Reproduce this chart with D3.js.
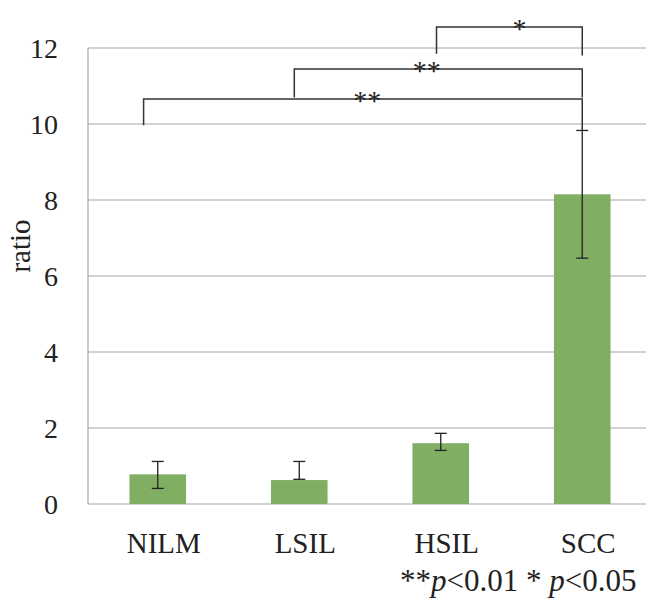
<!DOCTYPE html>
<html>
<head>
<meta charset="utf-8">
<script src="https://cdn.jsdelivr.net/npm/d3@7"></script>
<style>
  html, body { margin: 0; padding: 0; background: #fff; }
  svg { display: block; }
  text { font-family: 'Liberation Serif', 'Times New Roman', serif; fill: #222; }
</style>
</head>
<body>
<div id="chart"></div>
<script>
// data
var categories = ["NILM", "LSIL", "HSIL", "SCC"];
var means = [0.78, 0.63, 1.6, 8.15];
var errLow = [0.41, 0.65, 1.41, 6.47];
var errHigh = [1.12, 1.12, 1.86, 9.83];
var yTicks = [0, 2, 4, 6, 8, 10, 12];

// significance brackets: from / to category, bar level, leg ends, label position
var brackets = [
  { from: "HSIL", to: "SCC", level: 12.55, legFrom: 11.85, legTo: 11.8, label: "*", at: 0.57 },
  { from: "LSIL", to: "SCC", level: 11.45, legFrom: 10.7, legTo: 10.7, label: "**", at: 0.46 },
  { from: "NILM", to: "SCC", level: 10.66, legFrom: 9.97, legTo: 9.84, label: "**", at: 0.51 }
];
// legs of the brackets sit a little left of the bar centre
var legShift = { NILM: -0.1, LSIL: -0.035, HSIL: -0.03, SCC: 0 };

var width = 646, height = 598;
var margin = { top: 48, right: 0, bottom: 94, left: 88 };
var serif = "'Liberation Serif', 'Times New Roman', serif";

var svg = d3.select("#chart").append("svg")
  .attr("width", width)
  .attr("height", height);

var x = d3.scaleBand()
  .domain(categories)
  .range([margin.left - 1, width + 7])
  .paddingInner(0.6)
  .paddingOuter(0.3);

var y = d3.scaleLinear()
  .domain([0, 12])
  .range([height - margin.bottom, margin.top]);

// gridlines
svg.append("g")
  .attr("stroke", "#a6a6a6")
  .attr("stroke-width", 1.2)
  .selectAll("line")
  .data(yTicks)
  .enter().append("line")
  .attr("x1", margin.left)
  .attr("x2", width)
  .attr("y1", function(d) { return y(d); })
  .attr("y2", function(d) { return y(d); });

// left axis line
svg.append("line")
  .attr("x1", margin.left)
  .attr("x2", margin.left)
  .attr("y1", y(12))
  .attr("y2", y(0))
  .attr("stroke", "#a6a6a6")
  .attr("stroke-width", 1.2);

// y tick labels
var yAxis = svg.append("g")
  .attr("transform", "translate(" + margin.left + ",0)")
  .attr("font-family", serif)
  .call(d3.axisLeft(y).tickValues(yTicks).tickSize(0).tickPadding(30));
yAxis.select(".domain").remove();
yAxis.selectAll("text")
  .attr("x", -30)
  .attr("dy", "0.33em")
  .attr("text-anchor", "end")
  .style("font-family", serif)
  .style("font-size", "28px");

// y title
svg.append("text")
  .attr("transform", "translate(30,246) rotate(-90)")
  .attr("text-anchor", "middle")
  .style("font-size", "29px")
  .text("ratio");

// bars
svg.append("g")
  .selectAll("rect")
  .data(categories)
  .enter().append("rect")
  .attr("x", function(d) { return x(d); })
  .attr("width", x.bandwidth())
  .attr("y", function(d, i) { return y(means[i]); })
  .attr("height", function(d, i) { return y(0) - y(means[i]); })
  .attr("fill", "#80ae63");

// error bars
var err = svg.append("g")
  .attr("stroke", "#222")
  .attr("stroke-width", 1.3)
  .selectAll("g")
  .data(categories)
  .enter().append("g")
  .attr("transform", function(d) { return "translate(" + (x(d) + x.bandwidth() / 2) + ",0)"; });
err.append("line")
  .attr("y1", function(d, i) { return y(errLow[i]); })
  .attr("y2", function(d, i) { return y(errHigh[i]); });
err.append("line")
  .attr("x1", -6).attr("x2", 6)
  .attr("y1", function(d, i) { return y(errLow[i]); })
  .attr("y2", function(d, i) { return y(errLow[i]); });
err.append("line")
  .attr("x1", -6).attr("x2", 6)
  .attr("y1", function(d, i) { return y(errHigh[i]); })
  .attr("y2", function(d, i) { return y(errHigh[i]); });

// x labels
svg.append("g")
  .selectAll("text")
  .data(categories)
  .enter().append("text")
  .attr("x", function(d) { return x(d) + x.bandwidth() / 2 + 6; })
  .attr("y", 553)
  .attr("text-anchor", "middle")
  .style("font-size", "29px")
  .text(function(d) { return d; });

// significance brackets
function bx(cat) { return x(cat) + x.bandwidth() / 2 + legShift[cat] * x.step(); }

var br = svg.append("g").selectAll("g")
  .data(brackets)
  .enter().append("g");
br.append("path")
  .attr("fill", "none")
  .attr("stroke", "#333")
  .attr("stroke-width", 1.5)
  .attr("d", function(d) {
    return "M" + bx(d.from) + "," + y(d.legFrom) +
      "V" + y(d.level) +
      "H" + bx(d.to) +
      "V" + y(d.legTo);
  });
br.append("text")
  .attr("x", function(d) { return bx(d.from) + (bx(d.to) - bx(d.from)) * d.at; })
  .attr("y", function(d) { return y(d.level) + 11; })
  .attr("text-anchor", "middle")
  .style("font-size", "28px")
  .text(function(d) { return d.label; });

// footnote
var note = svg.append("text")
  .attr("x", 400)
  .attr("y", 591)
  .style("font-size", "31px");
note.append("tspan").text("**");
note.append("tspan").attr("font-style", "italic").text("p");
note.append("tspan").text("<0.01 * ");
note.append("tspan").attr("font-style", "italic").text("p");
note.append("tspan").text("<0.05");
</script>
</body>
</html>
